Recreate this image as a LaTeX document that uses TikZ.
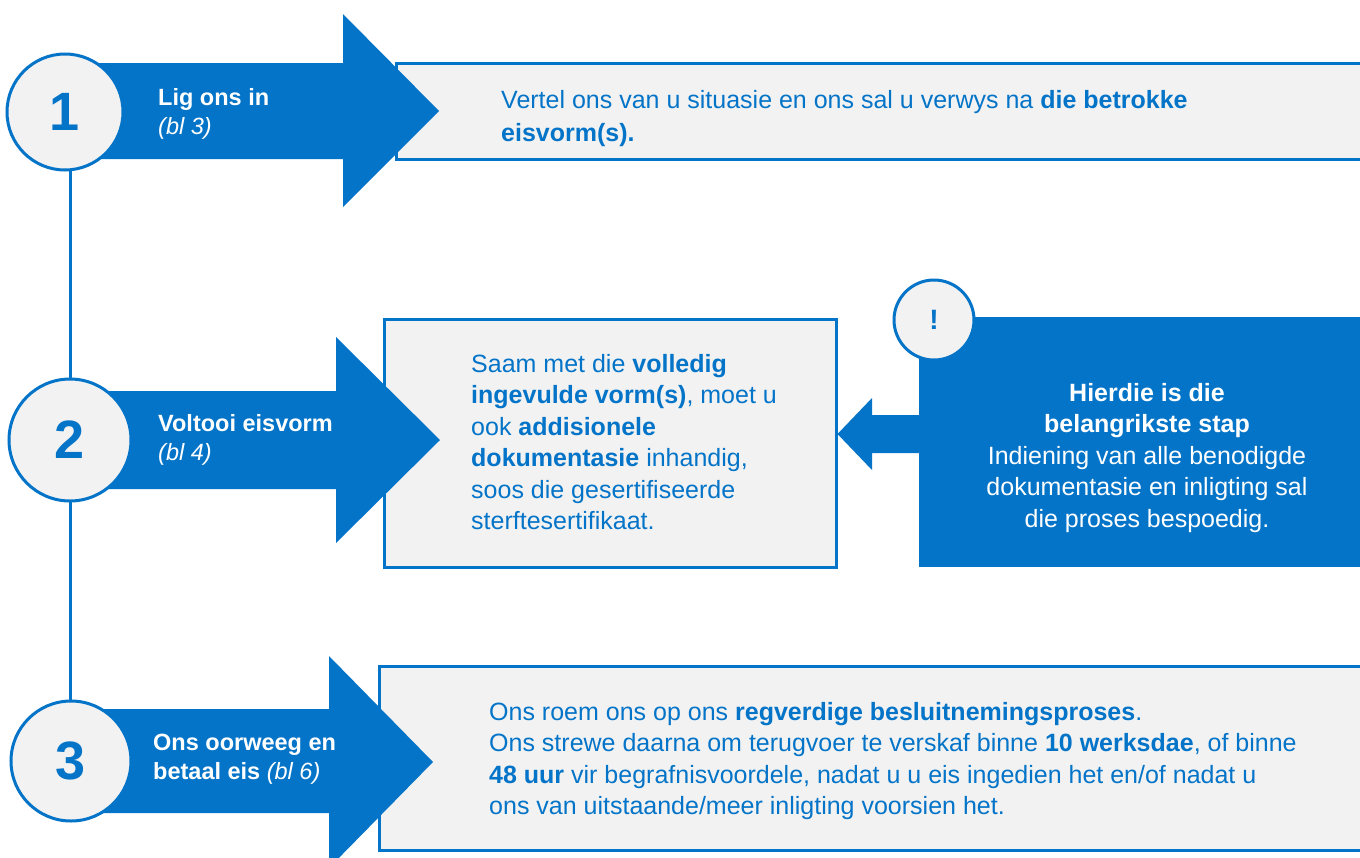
\documentclass[tikz,border=0pt]{standalone}
\usepackage{fontspec}
\setmainfont{Liberation Sans}
\definecolor{ablue}{RGB}{4,116,200}
\definecolor{agrey}{RGB}{242,242,242}
\begin{document}
\begin{tikzpicture}[x=1pt,y=-1pt,
  box/.style={draw=ablue,line width=2.5pt,fill=agrey,anchor=north west,inner sep=0pt},
  darkbox/.style={fill=ablue,anchor=north west,inner sep=0pt},
  blockarrow/.style={fill=ablue},
  numcirc/.style={circle,draw=ablue,line width=3pt,fill=agrey,inner sep=0pt,text=ablue,font=\fontsize{54}{54}\selectfont\bfseries},
  body/.style={text=ablue,font=\fontsize{25}{31.5}\selectfont,align=left,anchor=base west,inner sep=0pt},
  lab/.style={text=white,font=\fontsize{23.5}{29}\selectfont\bfseries,align=left,anchor=base west,inner sep=0pt},
  note/.style={text=white,font=\fontsize{25}{31.5}\selectfont,align=center,anchor=base,inner sep=0pt}]
\clip (0,0) rectangle (1360,857);
\fill[white] (0,0) rectangle (1360,857);
% content boxes
\node[box,minimum width=980pt,minimum height=96pt] (b1) at (395,62) {};
\node[box,minimum width=452pt,minimum height=248pt] (b2) at (383,318) {};
\node[box,minimum width=990pt,minimum height=184pt] (b3) at (378,665) {};
\node[darkbox,minimum width=450pt,minimum height=250pt] (dk) at (919,317) {};
% timeline
\coordinate (t1) at (70,170);
\coordinate (t3) at (70,702);
\draw[ablue,line width=3pt] (t1) -- (t3);
% block arrows
\fill[blockarrow] (65,63) -- (343,63) -- (343,14) -- (439,111) -- (343,207) -- (343,159) -- (65,159) -- cycle;
\fill[blockarrow] (70,391) -- (336,391) -- (336,337) -- (440,440) -- (336,543) -- (336,489) -- (70,489) -- cycle;
\fill[blockarrow] (71,709) -- (329,709) -- (329,656) -- (433,762) -- (329,868) -- (329,813) -- (71,813) -- cycle;
% arrow from note to box 2
\fill[blockarrow] (dk.west |- 0,415) -- (872,415) -- (872,398) -- (b2.east |- 0,434) -- (872,470) -- (872,453) -- (dk.west |- 0,453) -- cycle;
% circles
\node[numcirc,minimum size=116pt] (c1) at (65,112) {1};
\node[numcirc,minimum size=122pt] (c2) at (70,440) {2};
\node[numcirc,minimum size=120pt] (c3) at (71,761) {3};
\node[circle,draw=ablue,line width=3pt,fill=agrey,minimum size=80pt,inner sep=0pt,text=ablue,font=\fontsize{28}{28}\selectfont\bfseries] (ex) at (934,320) {!};
% arrow labels (anchored at last baseline)
\node[lab] (l1) at (158,134) {Lig ons in\\\mdseries\itshape (bl 3)};
\node[lab] (l2) at (158,460) {Voltooi eisvorm\\\mdseries\itshape (bl 4)};
\node[lab] (l3) at (153,779) {Ons oorweeg en\\betaal eis \mdseries\itshape (bl 6)};
% box texts (anchored at last baseline)
\node[body] (t1txt) at (501,141) {Vertel ons van u situasie en ons sal u verwys na \textbf{die betrokke}\\[1.5pt]\textbf{eisvorm(s).}};
\node[body] (t2txt) at (471,529.5) {Saam met die \textbf{volledig}\\\textbf{ingevulde vorm(s)}, moet u\\ook \textbf{addisionele}\\\textbf{dokumentasie} inhandig,\\soos die gesertifiseerde\\sterftesertifikaat.};
\node[body] (t3txt) at (489,814.5) {Ons roem ons op ons \textbf{regverdige besluitnemingsproses}.\\Ons strewe daarna om terugvoer te verskaf binne \textbf{10 werksdae}, of binne\\\textbf{48 uur} vir begrafnisvoordele, nadat u u eis ingedien het en/of nadat u\\ons van uitstaande/meer inligting voorsien het.};
\node[note] (ntxt) at (1147,527) {\textbf{Hierdie is die}\\\textbf{belangrikste stap}\\Indiening van alle benodigde\\dokumentasie en inligting sal\\die proses bespoedig.};
\end{tikzpicture}
\end{document}
